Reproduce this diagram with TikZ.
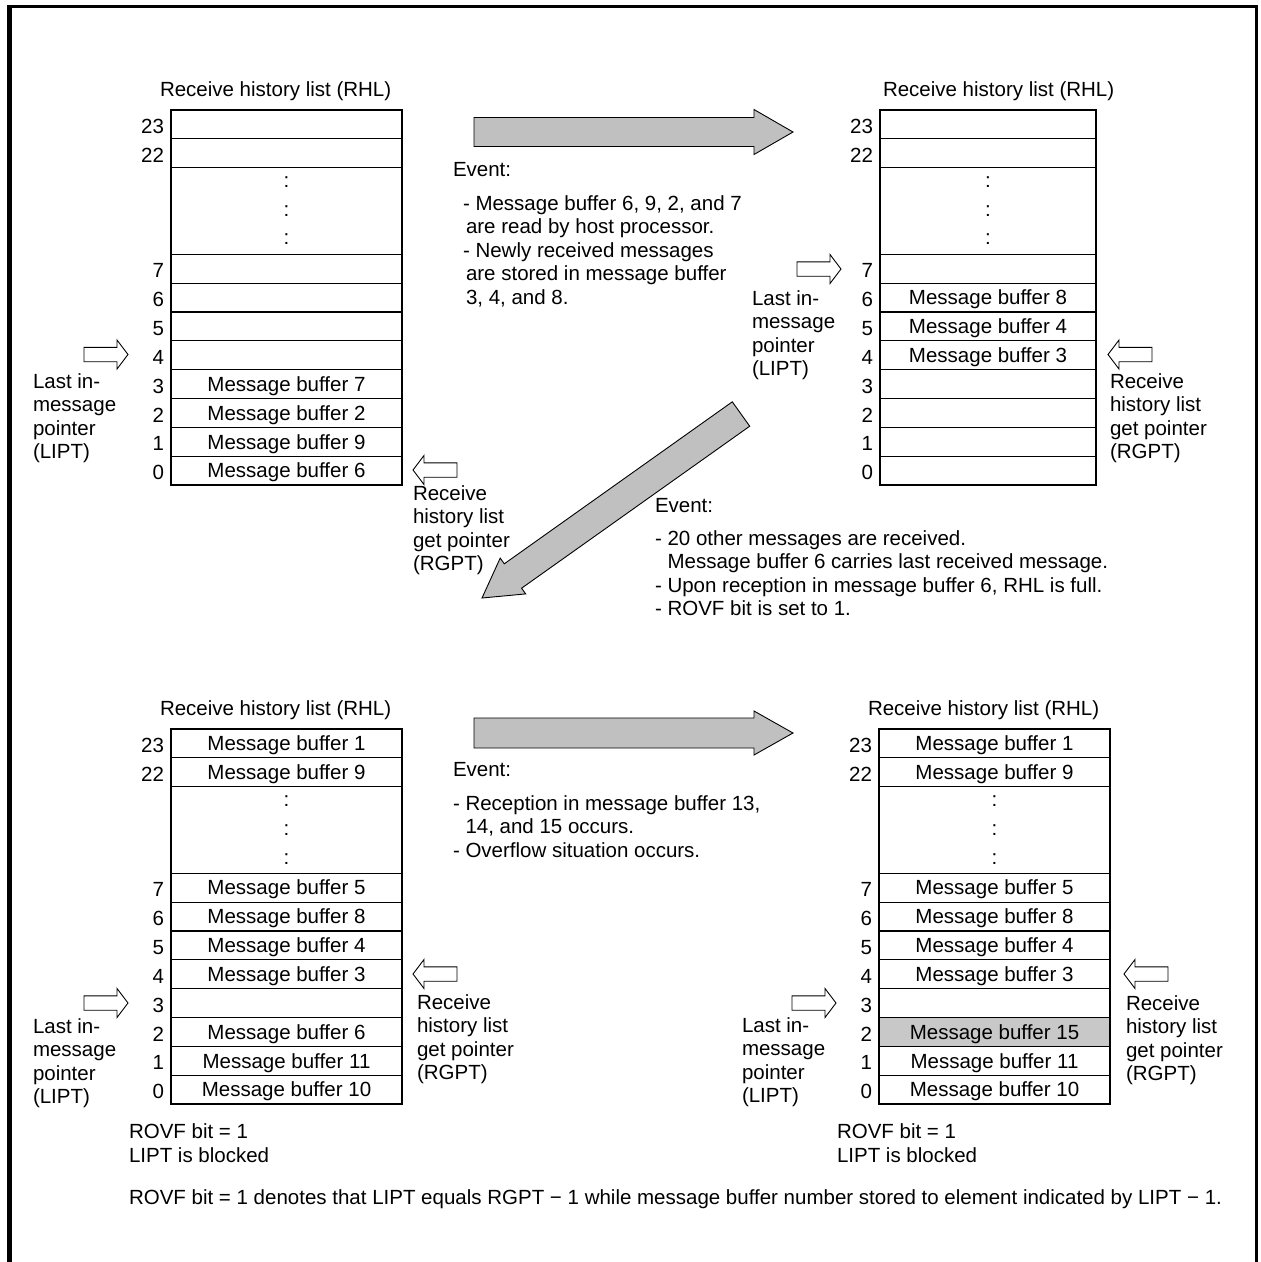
\documentclass[tikz,border=0pt]{standalone}
\usepackage{fontspec}
\setmainfont{Liberation Sans}
\definecolor{arrowgray}{RGB}{192,192,192}
\definecolor{cellgray}{RGB}{200,200,200}
\newcommand\fl{\rule{0pt}{16pt}}
\newcommand\rhltable[5]{%
  \foreach \n/\p/\t/\c in {#5}{%
    \node[cell, fill=\c, minimum width=#3pt] (#1\n) at (#2, #4+\p*28.85) {\t};
    \node[num] (#1n\n) at (#2-7, #4+\p*28.85+23.5) {\n};
  }
  \node[cell, minimum width=#3pt, minimum height=86.55pt, text height=, text depth=, align=center,
        font=\fontsize{20.5}{28.6}\selectfont] (#1dots) at (#2, #4+2*28.85) {:\\:\\:};
  \foreach \r in {23,22,dots,7,6,5,4,3,2,1}{%
    \draw[sep] (#1\r.south west) -- (#1\r.south east);
  }
  \draw[line width=2.7pt] (#123.north west) rectangle (#10.south east);
}
\begin{document}
\begin{tikzpicture}[x=1pt,y=-1pt,
  every node/.style={font=\fontsize{20.5}{23.5}\selectfont, inner sep=0pt, outer sep=0pt},
  cell/.style={minimum height=28.85pt, text height=14.6pt, text depth=0pt, anchor=north west},
  sep/.style={line width=1.2pt},
  num/.style={anchor=base east},
  title/.style={anchor=base west},
  lbl/.style={anchor=north west, align=left},
  bigarrow/.style={draw=black, line width=0.9pt, fill=arrowgray},
  hollow/.style={draw=black, line width=0.9pt, fill=white},
  rarrow/.pic={\draw[hollow] (0,-7.2) -- (33,-7.2) -- (33,-14.5) -- (44,0) -- (33,14.5) -- (33,7.2) -- (0,7.2) -- cycle;},
  larrow/.pic={\draw[hollow] (0,0) -- (11,-14.5) -- (11,-7.2) -- (44,-7.2) -- (44,7.2) -- (11,7.2) -- (11,14.5) -- cycle;},
]
\useasboundingbox (0,0) rectangle (1261,1262);
% frame
\draw[line width=3.3pt] (8.5,1266) -- (8.5,6.7) -- (1256.5,6.7) -- (1256.5,1266);
\draw[line width=4.5pt] (10,6) -- (10,1266);

% ---------- tables ----------
\rhltable{A}{171}{231}{110}{23/0/{}/white, 22/1/{}/white, 7/5/{}/white, 6/6/{}/white, 5/7/{}/white, 4/8/{}/white,
  3/9/Message buffer 7/white, 2/10/Message buffer 2/white, 1/11/Message buffer 9/white, 0/12/Message buffer 6/white}
\rhltable{B}{880}{216}{110}{23/0/{}/white, 22/1/{}/white, 7/5/{}/white, 6/6/Message buffer 8/white, 5/7/Message buffer 4/white,
  4/8/Message buffer 3/white, 3/9/{}/white, 2/10/{}/white, 1/11/{}/white, 0/12/{}/white}
\rhltable{C}{171}{231}{729}{23/0/Message buffer 1/white, 22/1/Message buffer 9/white, 7/5/Message buffer 5/white,
  6/6/Message buffer 8/white, 5/7/Message buffer 4/white, 4/8/Message buffer 3/white, 3/9/{}/white,
  2/10/Message buffer 6/white, 1/11/Message buffer 11/white, 0/12/Message buffer 10/white}
\rhltable{D}{879}{231}{729}{23/0/Message buffer 1/white, 22/1/Message buffer 9/white, 7/5/Message buffer 5/white,
  6/6/Message buffer 8/white, 5/7/Message buffer 4/white, 4/8/Message buffer 3/white, 3/9/{}/white,
  2/10/Message buffer 15/cellgray, 1/11/Message buffer 11/white, 0/12/Message buffer 10/white}

% titles
\node[title] (tA) at (160,96) {Receive history list (RHL)};
\node[title] (tB) at (883,96) {Receive history list (RHL)};
\node[title] (tC) at (160,715) {Receive history list (RHL)};
\node[title] (tD) at (868,715) {Receive history list (RHL)};

% ---------- pointer arrows ----------
\pic at (84,354.5) {rarrow};
\pic at (413,470) {larrow};
\pic at (797,269) {rarrow};
\pic at (1108,354.5) {larrow};
\pic at (84,1003) {rarrow};
\pic at (413,974) {larrow};
\pic at (792,1003) {rarrow};
\pic at (1124,974) {larrow};

% pointer labels
\node[lbl] (lA) at (33,388-16) {\fl Last in-\\message\\pointer\\(LIPT)};
\node[lbl] (rA) at (413,500-16) {\fl Receive\\history list\\get pointer\\(RGPT)};
\node[lbl] (lB) at (752,305-16) {\fl Last in-\\message\\pointer\\(LIPT)};
\node[lbl] (rB) at (1110,388-16) {\fl Receive\\history list\\get pointer\\(RGPT)};
\node[lbl] (lC) at (33,1033-16) {\fl Last in-\\message\\pointer\\(LIPT)};
\node[lbl] (rC) at (417,1009-16) {\fl Receive\\history list\\get pointer\\(RGPT)};
\node[lbl] (lD) at (742,1032-16) {\fl Last in-\\message\\pointer\\(LIPT)};
\node[lbl] (rD) at (1126,1010-16) {\fl Receive\\history list\\get pointer\\(RGPT)};

% ---------- big event arrows ----------
\draw[bigarrow] (474,117.5) -- (754,117.5) -- (754,109.5) -- (793,132) -- (754,154.5) -- (754,146.5) -- (474,146.5) -- cycle;
\draw[bigarrow] (474,718) -- (754,718) -- (754,711) -- (793,733) -- (754,755) -- (754,748) -- (474,748) -- cycle;
\draw[bigarrow] (482,598) -- (525.7,593.9) -- (521.6,588.2) -- (749.7,426.2) -- (732.3,401.8) -- (504.3,563.8) -- (500.2,558.1) -- cycle;

% ---------- event texts ----------
\node[title] (e1) at (453,176) {Event:};
\node[lbl] (e1t) at (463,210-16) {\fl - Message buffer 6, 9, 2, and 7\\\hspace*{3pt}are read by host processor.\\- Newly received messages\\\hspace*{3pt}are stored in message buffer\\\hspace*{3pt}3, 4, and 8.};
\node[title] (e2) at (655,512) {Event:};
\node[lbl] (e2t) at (655,545-16) {\fl - 20 other messages are received.\\\hphantom{- }Message buffer 6 carries last received message.\\- Upon reception in message buffer 6, RHL is full.\\- ROVF bit is set to 1.};
\node[title] (e3) at (453,776) {Event:};
\node[lbl] (e3t) at (453,810-16) {\fl - Reception in message buffer 13,\\\hphantom{- }14, and 15 occurs.\\- Overflow situation occurs.};

% ---------- notes ----------
\node[lbl] (nC) at (129,1138-16) {\fl ROVF bit = 1\\[1pt]LIPT is blocked};
\node[lbl] (nD) at (837,1138-16) {\fl ROVF bit = 1\\[1pt]LIPT is blocked};
\node[title] (foot) at (129,1204) {ROVF bit = 1 denotes that LIPT equals RGPT − 1 while message buffer number stored to element indicated by LIPT − 1.};
\end{tikzpicture}
\end{document}
